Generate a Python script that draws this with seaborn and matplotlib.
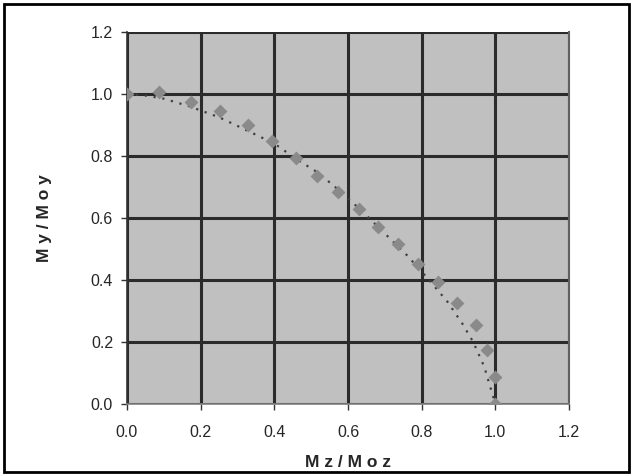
import matplotlib
matplotlib.use("Agg")
import matplotlib.pyplot as plt
import seaborn as sns
import pandas as pd
from matplotlib.patches import Rectangle

mz = [0.0, 0.088, 0.173, 0.252, 0.329, 0.393, 0.459, 0.517, 0.574, 0.631,
      0.682, 0.735, 0.790, 0.843, 0.896, 0.947, 0.977, 1.0, 1.0]
my = [1.0, 1.005, 0.975, 0.944, 0.901, 0.848, 0.792, 0.736, 0.683, 0.628,
      0.572, 0.515, 0.453, 0.392, 0.326, 0.255, 0.173, 0.088, 0.0]

trend_x = [0.0, 0.05, 0.10, 0.17, 0.25, 0.33, 0.40, 0.46, 0.52, 0.58, 0.64,
           0.70, 0.76, 0.82, 0.87, 0.91, 0.94, 0.97, 0.99, 1.0]
trend_y = [1.0, 0.995, 0.985, 0.96, 0.925, 0.88, 0.84, 0.79, 0.745, 0.685, 0.62,
           0.55, 0.48, 0.40, 0.33, 0.26, 0.20, 0.12, 0.04, 0.0]

xticks = [0.0, 0.2, 0.4, 0.6, 0.8, 1.0, 1.2]
yticks = [0.0, 0.2, 0.4, 0.6, 0.8, 1.0, 1.2]

sns.set_style("white")
plt.rcParams['font.family'] = ['Liberation Sans', 'DejaVu Sans']

fig = plt.figure(figsize=(6.33, 4.76), dpi=100)
ax = fig.add_axes([127/633, 1 - 404/476, (569 - 127)/633, (404 - 32)/476])
ax.set_facecolor('#c0c0c0')

df = pd.DataFrame({'Mz/Moz': mz, 'My/Moy': my})
dt = pd.DataFrame({'x': trend_x, 'y': trend_y})

sns.lineplot(data=dt, x='x', y='y', ax=ax, color='#404040', lw=1.6,
             linestyle=(0, (1, 3)), sort=False, zorder=3)
sns.scatterplot(data=df, x='Mz/Moz', y='My/Moy', ax=ax, marker='D', s=50,
                color='#8a8a8a', edgecolor='#8a8a8a', linewidth=0, zorder=4)

ax.set_xlim(0, 1.2)
ax.set_ylim(0, 1.2)
ax.set_xticks(xticks)
ax.set_yticks(yticks)
ax.set_xticklabels([f"{t:.1f}" for t in xticks])
ax.set_yticklabels([f"{t:.1f}" for t in yticks])
ax.grid(True, color='#2b2b2b', lw=2.2)
ax.set_axisbelow(True)
ax.tick_params(axis='both', labelsize=11.5, length=4, width=1, color='#333333',
               direction='out', bottom=True, left=True, pad=6)
ax.tick_params(axis='x', pad=11)
ax.spines['top'].set_visible(False)
ax.spines['left'].set_color('#333333')
ax.spines['left'].set_linewidth(1.2)
ax.spines['bottom'].set_color('#808080')
ax.spines['bottom'].set_linewidth(1.2)
ax.spines['right'].set_color('#606060')
ax.spines['right'].set_linewidth(1.5)

ax.set_xlabel('M z / M o z', fontsize=12.5, fontweight='bold', labelpad=11)
ax.set_ylabel('M y / M o y', fontsize=12.5, fontweight='bold', labelpad=28)

fig.patches.append(Rectangle((4/633, 4/476), 625/633, 468/476, transform=fig.transFigure,
                             fill=False, edgecolor='black', lw=2))

fig.savefig('out.png', dpi=100)
